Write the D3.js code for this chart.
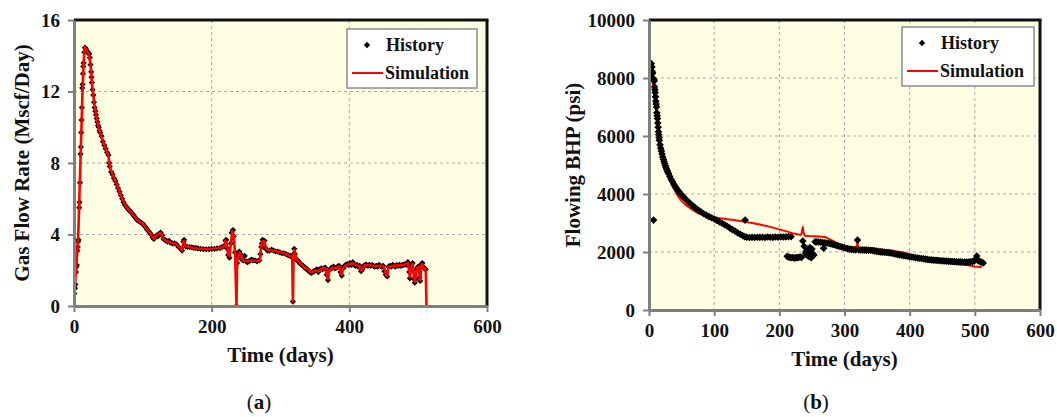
<!DOCTYPE html>
<html>
<head>
<meta charset="utf-8">
<script src="https://d3js.org/d3.v7.min.js"></script>
<style>
  body { margin: 0; background: #fff; }
  text { font-family: "Liberation Serif", "Times New Roman", serif; font-weight: bold; fill: #111; }
</style>
</head>
<body>
<svg id="chart" width="1057" height="417"></svg>
<script>
// (a) gas flow rate, [day, Mscf/Day]
const gasHistory = [[0.5,0.7],[1.5,1.0],[2,1.2],[3,1.9],[3.5,2.2],[4,2.3],[5,3.1],[5.5,3.3],[6,3.6],[6.5,3.7],[7.5,5.5],[8,5.8],[8.7,6.9],[9.5,8.5],[10,8.9],[10.5,9.7],[11,10.4],[11.5,11.1],[12,12.2],[12.5,12.4],[13,13.0],[13.5,13.4],[14,13.6],[15,14.2],[16,14.45],[17,14.4],[18,14.3],[19,14.25],[20,14.2],[21,14.15],[22,14.1],[23,13.9],[24,13.5],[25,13.1],[25.5,12.8],[26,12.5],[27,12.1],[28,11.8],[29,11.4],[30,11.1],[31,10.9],[32,10.7],[33,10.5],[34,10.3],[35,10.1],[36,10.0],[37,9.8],[38,9.7],[40,9.5],[42,9.2],[44,9.0],[46,8.8],[48,8.6],[50,8.45],[51,8.0],[52,7.8],[54,7.5],[56,7.35],[58,7.15],[60,7.0],[62,6.8],[64,6.6],[66,6.4],[68,6.2],[70,6.0],[72,5.8],[74,5.65],[76,5.55],[78,5.45],[80,5.35],[82,5.3],[84,5.2],[86,5.1],[88,5.0],[90,4.9],[92,4.8],[94,4.75],[96,4.7],[98,4.65],[100,4.6],[102,4.5],[104,4.4],[106,4.3],[108,4.2],[110,4.1],[112,4.0],[114,3.85],[116,3.75],[118,3.85],[120,3.95],[122,3.9],[124,4.05],[126,4.1],[128,3.95],[130,3.75],[132,3.7],[134,3.65],[136,3.6],[138,3.65],[140,3.55],[143,3.5],[146,3.5],[149,3.45],[152,3.3],[155,3.2],[157,3.1],[159,3.6],[160,3.7],[162,3.35],[165,3.3],[168,3.3],[171,3.28],[174,3.25],[177,3.25],[180,3.22],[184,3.2],[188,3.18],[192,3.17],[196,3.18],[200,3.2],[204,3.2],[208,3.22],[212,3.24],[215,3.3],[218,3.35],[220,3.65],[221,3.7],[223,3.2],[224,2.85],[226,2.7],[228,3.5],[229,4.1],[231,4.25],[232,3.9],[234,3.0],[236,0.0],[237,2.4],[238,2.8],[239,2.75],[240,3.05],[242,2.9],[244,2.6],[246,2.55],[248,2.8],[250,2.5],[252,2.45],[254,2.5],[256,2.55],[258,2.6],[260,2.55],[263,2.55],[266,2.5],[269,2.55],[271,2.9],[272,3.3],[273,3.5],[274,3.7],[275,3.3],[277,3.65],[279,3.2],[281,3.1],[284,3.1],[287,3.15],[290,3.1],[293,3.05],[296,3.05],[299,3.0],[302,2.95],[305,2.95],[308,2.9],[311,2.85],[314,2.8],[316,2.75],[318,0.25],[319,2.9],[320,3.2],[321,2.9],[323,2.6],[325,2.55],[327,2.45],[329,2.35],[331,2.3],[333,2.25],[335,2.15],[337,2.1],[339,2.05],[341,1.95],[343,1.9],[345,1.85],[347,1.9],[349,1.95],[351,2.0],[353,2.05],[355,1.9],[357,2.05],[359,2.1],[361,2.05],[363,2.1],[365,2.15],[367,1.75],[369,1.45],[371,2.0],[373,2.1],[375,2.15],[377,2.2],[379,2.1],[381,2.15],[383,2.2],[385,2.25],[387,1.9],[389,1.7],[391,2.1],[393,2.25],[395,2.3],[397,2.35],[399,2.3],[401,2.4],[403,2.3],[405,2.45],[407,2.3],[409,2.25],[411,2.3],[413,2.2],[415,2.25],[417,1.95],[419,2.05],[421,2.25],[423,2.3],[425,2.3],[427,2.25],[429,2.3],[431,2.25],[433,2.3],[435,2.25],[437,2.2],[439,2.25],[441,2.2],[443,2.3],[445,2.25],[447,2.2],[449,2.25],[451,1.95],[453,1.75],[455,1.65],[457,2.2],[459,2.25],[461,2.2],[463,2.3],[465,2.25],[467,2.2],[469,2.3],[471,2.25],[473,2.3],[475,2.25],[477,2.3],[479,2.3],[481,2.35],[483,2.3],[485,2.45],[486,2.3],[487,1.9],[488,1.55],[490,2.1],[492,2.4],[493,2.0],[494,1.5],[495,1.3],[496,1.5],[498,2.1],[500,2.2],[502,1.6],[503,1.4],[505,2.35],[506,2.4],[507,2.2],[509,2.1],[511,2.05]];

const gasSimulation = [[0,0.6],[1,0.9],[2,1.5],[3,2.0],[4,2.6],[5,3.2],[6,3.8],[7,5.0],[8,6.3],[9,7.6],[10,8.9],[11,10.2],[12,11.5],[13,12.7],[14,13.6],[15,14.2],[16,14.5],[18,14.3],[20,14.2],[22,14.0],[24,13.5],[26,12.5],[28,11.8],[30,11.2],[32,10.7],[35,10.1],[38,9.7],[42,9.2],[46,8.8],[50,8.4],[52,7.8],[56,7.35],[60,7.0],[65,6.5],[70,6.0],[75,5.6],[80,5.35],[85,5.15],[90,4.9],[95,4.72],[100,4.6],[105,4.35],[110,4.1],[114,3.85],[116,3.75],[120,3.95],[124,4.05],[126,4.1],[130,3.75],[135,3.62],[140,3.55],[146,3.5],[150,3.4],[155,3.2],[157,3.1],[159,3.6],[160,3.65],[162,3.35],[170,3.28],[180,3.22],[190,3.18],[200,3.2],[210,3.23],[216,3.3],[219,3.4],[220,3.65],[222,3.5],[224,2.85],[226,2.8],[228,3.5],[230,4.2],[232,3.9],[234,3.0],[236,0.0],[237,2.5],[239,2.8],[240,3.0],[243,2.8],[245,2.55],[250,2.5],[255,2.52],[260,2.55],[265,2.52],[270,2.55],[272,3.3],[274,3.65],[276,3.4],[277,3.6],[279,3.2],[285,3.12],[290,3.1],[295,3.05],[300,3.0],[305,2.95],[310,2.87],[315,2.78],[317,2.75],[318,0.25],[319,2.9],[320,3.15],[322,2.8],[325,2.55],[330,2.32],[335,2.15],[340,2.05],[345,1.88],[350,1.98],[355,1.95],[360,2.08],[365,2.12],[367,1.8],[369,1.5],[371,2.0],[375,2.15],[380,2.12],[385,2.22],[387,1.95],[389,1.75],[391,2.1],[395,2.28],[400,2.35],[405,2.4],[410,2.28],[415,2.24],[417,2.0],[419,2.05],[422,2.28],[430,2.28],[440,2.22],[445,2.26],[450,2.2],[453,1.8],[455,1.68],[457,2.2],[465,2.26],[475,2.27],[480,2.32],[485,2.42],[487,1.95],[488,1.6],[490,2.1],[492,2.38],[494,1.55],[495,1.35],[497,1.8],[499,2.15],[501,2.2],[502,1.7],[503,1.45],[505,2.35],[507,2.25],[509,2.1],[511,2.05],[512,0]];

// (b) flowing bottom-hole pressure, [day, psi]
const bhpHistory = [[0,7950],[0.5,8100],[1,8300],[1.5,8450],[2,8350],[2.5,8200],[3,8400],[3.5,8500],[4,8250],[4.5,8380],[5,8150],[5.5,8200],[6,7990],[7,3100],[7.5,7950],[8,7900],[8.5,7700],[9,7600],[9.5,7500],[10,7350],[10.5,7200],[11,7100],[11.5,7000],[12,6800],[12.5,6700],[13,6600],[13.5,6450],[14,6300],[14.5,6150],[15,6050],[15.5,5950],[16,5850],[17,5700],[18,5580],[19,5480],[20,5380],[21,5280],[22,5200],[23,5120],[24,5050],[25,4980],[26,4920],[27,4860],[28,4800],[29,4750],[30,4700],[32,4600],[34,4500],[36,4420],[38,4340],[40,4270],[42,4200],[44,4140],[46,4080],[48,4020],[50,3970],[53,3900],[56,3830],[59,3760],[62,3700],[65,3640],[68,3580],[71,3520],[74,3470],[77,3420],[80,3380],[84,3320],[88,3270],[92,3220],[96,3180],[100,3140],[104,3090],[108,3040],[112,2990],[116,2940],[120,2890],[124,2830],[128,2770],[132,2720],[136,2660],[140,2610],[144,2560],[147,2530],[147.5,3100],[150,2510],[154,2500],[158,2505],[162,2500],[166,2510],[170,2505],[174,2510],[178,2500],[182,2515],[186,2510],[190,2505],[194,2515],[198,2510],[202,2520],[206,2515],[210,2520],[214,2525],[218,2530],[212,1850],[214,1830],[216,1820],[218,1800],[220,1810],[222,1800],[224,1790],[226,1810],[228,1800],[230,1820],[232,1830],[234,1810],[236,2380],[238,2200],[240,1950],[241,2020],[242,1900],[243,2100],[244,2050],[245,1850],[246,1980],[247,2150],[248,2000],[249,1800],[250,2100],[251,1950],[253,1900],[255,2350],[257,2350],[260,2345],[263,2340],[266,2330],[268,2130],[269,2320],[272,2310],[275,2300],[278,2290],[281,2270],[284,2250],[287,2230],[290,2210],[293,2190],[296,2170],[299,2150],[302,2130],[305,2115],[308,2100],[311,2090],[314,2080],[317,2075],[320,2410],[322,2070],[325,2070],[328,2065],[331,2065],[334,2065],[337,2060],[340,2060],[343,2050],[346,2040],[349,2020],[352,2010],[355,2000],[358,1995],[361,1990],[364,1985],[367,1980],[370,1970],[373,1955],[376,1940],[379,1925],[382,1910],[385,1900],[388,1890],[391,1875],[394,1865],[397,1855],[400,1840],[403,1830],[406,1820],[409,1805],[412,1795],[415,1785],[418,1775],[421,1765],[424,1755],[427,1745],[430,1735],[433,1730],[436,1720],[439,1715],[442,1710],[445,1705],[448,1700],[451,1695],[454,1690],[457,1685],[460,1680],[463,1675],[466,1670],[469,1668],[472,1665],[475,1660],[478,1660],[481,1655],[484,1650],[487,1650],[490,1650],[493,1660],[496,1670],[499,1680],[501,1750],[503,1860],[505,1700],[507,1680],[509,1660],[511,1640],[513,1620]];

const bhpSimulation = [[0,8800],[2,8500],[4,8150],[6,7750],[8,7400],[10,7000],[12,6700],[14,6350],[16,5950],[18,5600],[20,5300],[22,5080],[25,4880],[28,4700],[31,4550],[34,4380],[38,4200],[42,4020],[46,3880],[50,3760],[55,3650],[60,3560],[66,3470],[72,3380],[78,3320],[85,3270],[92,3230],[100,3200],[110,3160],[120,3130],[130,3100],[140,3070],[150,3030],[160,2990],[170,2950],[180,2900],[190,2840],[200,2780],[210,2720],[220,2650],[228,2610],[232,2590],[234,2620],[236,2860],[237,2700],[239,2560],[245,2550],[255,2540],[265,2530],[270,2520],[275,2460],[280,2410],[285,2350],[290,2290],[295,2240],[300,2190],[305,2170],[310,2160],[315,2160],[319,2155],[320,2400],[321,2155],[325,2150],[330,2145],[335,2140],[340,2130],[345,2120],[350,2110],[355,2100],[360,2080],[365,2060],[370,2050],[375,2040],[380,2020],[385,2000],[390,1980],[395,1950],[400,1880],[405,1850],[410,1830],[420,1790],[430,1740],[440,1700],[450,1660],[460,1620],[470,1590],[480,1570],[490,1540],[500,1500],[505,1490],[511,1470]];

const gasXTicks = [0, 200, 400, 600];
const gasYTicks = [0, 4, 8, 12, 16];
const bhpXTicks = [0, 100, 200, 300, 400, 500, 600];
const bhpYTicks = [0, 2000, 4000, 6000, 8000, 10000];

const svg = d3.select("#chart");

function diamond(r) {
    return "M0," + (-r) + "L" + r + ",0L0," + r + "L" + (-r) + ",0Z";
}

function drawPanel(p) {
    const x = d3.scaleLinear().domain([0, 600]).range([p.left, p.right]);
    const y = d3.scaleLinear().domain([0, p.yMax]).range([p.bottom, p.top]);
    const g = svg.append("g");

    g.append("rect")
        .attr("x", p.left).attr("y", p.top)
        .attr("width", p.right - p.left).attr("height", p.bottom - p.top)
        .attr("fill", "#ffffe4");

    // dashed grid
    g.append("g").selectAll("line")
        .data(p.xTicks.slice(1, -1)).join("line")
        .attr("x1", d => x(d)).attr("x2", d => x(d))
        .attr("y1", p.top).attr("y2", p.bottom)
        .attr("stroke", "#a8a8a8").attr("stroke-dasharray", "3,3");
    g.append("g").selectAll("line")
        .data(p.yTicks.slice(1, -1)).join("line")
        .attr("y1", d => y(d)).attr("y2", d => y(d))
        .attr("x1", p.left).attr("x2", p.right)
        .attr("stroke", "#a8a8a8").attr("stroke-dasharray", "3,3");

    const clipId = "clip" + p.id;
    svg.append("defs").append("clipPath").attr("id", clipId)
        .append("rect")
        .attr("x", p.left).attr("y", p.top - 5)
        .attr("width", p.right - p.left).attr("height", p.bottom - p.top + 5);

    const line = d3.line().x(d => x(d[0])).y(d => y(d[1]));
    const data = g.append("g").attr("clip-path", "url(#" + clipId + ")");

    const drawHist = () => data.append("g").selectAll("path")
        .data(p.history).join("path")
        .attr("d", diamond(p.marker))
        .attr("transform", d => "translate(" + x(d[0]) + "," + y(d[1]) + ")")
        .attr("fill", "#000");
    const drawSim = () => data.append("path")
        .datum(p.simulation)
        .attr("d", line)
        .attr("fill", "none")
        .attr("stroke", "#ff0000")
        .attr("stroke-width", p.simWidth)
        .attr("stroke-linejoin", "round");

    if (p.simOnTop) { drawHist(); drawSim(); } else { drawSim(); drawHist(); }

    // frame: dark top/right, grey axes left/bottom
    g.append("line").attr("x1", p.left).attr("x2", p.right + 1.5)
        .attr("y1", p.top).attr("y2", p.top)
        .attr("stroke", "#111").attr("stroke-width", 3);
    g.append("line").attr("x1", p.right).attr("x2", p.right)
        .attr("y1", p.top).attr("y2", p.bottom)
        .attr("stroke", "#111").attr("stroke-width", 3);

    const xAxis = g.append("g")
        .attr("transform", "translate(0," + p.bottom + ")")
        .call(d3.axisBottom(x).tickValues(p.xTicks).tickFormat(d3.format("d"))
            .tickSize(6).tickPadding(8).tickSizeOuter(0));
    const yAxis = g.append("g")
        .attr("transform", "translate(" + p.left + ",0)")
        .call(d3.axisLeft(y).tickValues(p.yTicks).tickFormat(d3.format("d"))
            .tickSize(6).tickPadding(8).tickSizeOuter(0));
    [xAxis, yAxis].forEach(a => {
        a.select(".domain").attr("stroke", "#7f7f7f").attr("stroke-width", 3);
        a.selectAll(".tick line").attr("stroke", "#7f7f7f").attr("stroke-width", 2);
        a.selectAll("text")
            .attr("fill", "#111")
            .style("font-family", "'Liberation Serif', serif")
            .style("font-weight", "bold")
            .style("font-size", "19px");
    });

    // axis titles
    g.append("text")
        .attr("transform", "translate(" + p.yTitleX + "," + ((p.top + p.bottom) / 2) + ") rotate(-90)")
        .attr("text-anchor", "middle")
        .style("font-size", "21px")
        .text(p.yTitle);
    g.append("text")
        .attr("x", (p.left + p.right) / 2).attr("y", p.bottom + 56)
        .attr("text-anchor", "middle")
        .style("font-size", "21px")
        .text("Time (days)");
    g.append("text")
        .attr("x", p.labelX).attr("y", 409)
        .attr("text-anchor", "middle")
        .style("font-size", "21px")
        .style("font-weight", "normal")
        .html("(<tspan font-weight='bold'>" + p.label + "</tspan>)");

    // legend
    const lg = g.append("g").attr("transform", "translate(" + p.legendX + "," + p.legendY + ")");
    lg.append("rect")
        .attr("width", p.legendW).attr("height", 59)
        .attr("fill", "#fff").attr("stroke", "#8c8c8c").attr("stroke-width", 1.5);
    lg.append("path").attr("d", diamond(3.2))
        .attr("transform", "translate(20,16)").attr("fill", "#000");
    lg.append("line").attr("x1", 5).attr("x2", 36).attr("y1", 44).attr("y2", 44)
        .attr("stroke", "#ff0000").attr("stroke-width", 2);
    lg.append("text").attr("x", 39).attr("y", 22).style("font-size", "18px").text("History");
    lg.append("text").attr("x", 38).attr("y", 50).style("font-size", "18px").text("Simulation");
}

drawPanel({
    id: "a", left: 74, right: 487, top: 20, bottom: 306, yMax: 16,
    xTicks: gasXTicks, yTicks: gasYTicks,
    history: gasHistory, simulation: gasSimulation,
    marker: 3.1, simWidth: 2.6, simOnTop: true,
    yTitle: "Gas Flow Rate (Mscf/Day)", yTitleX: 29,
    label: "a", labelX: 259,
    legendX: 347, legendY: 29, legendW: 130
});

drawPanel({
    id: "b", left: 649, right: 1040, top: 20, bottom: 310, yMax: 10000,
    xTicks: bhpXTicks, yTicks: bhpYTicks,
    history: bhpHistory, simulation: bhpSimulation,
    marker: 3.8, simWidth: 2, simOnTop: false,
    yTitle: "Flowing BHP (psi)", yTitleX: 580,
    label: "b", labelX: 816,
    legendX: 902, legendY: 27, legendW: 132
});
</script>
</body>
</html>
